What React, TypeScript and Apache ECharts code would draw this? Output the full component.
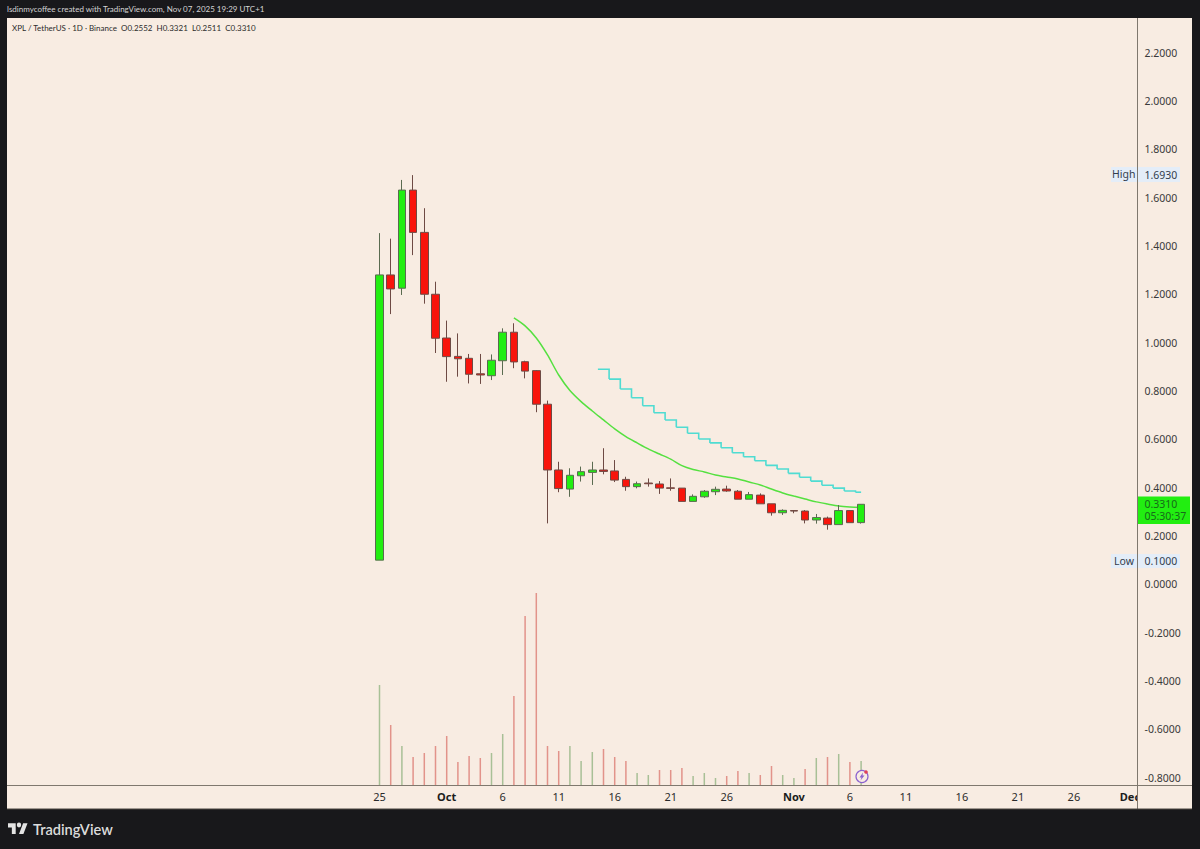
import React, { useEffect, useRef } from "react";
import * as echarts from "echarts";

const opens = [0.1,1.28,1.225,1.631,1.456,1.2,1.019,0.943,0.935,0.871,0.863,0.925,1.043,0.921,0.884,0.745,0.473,0.394,0.449,0.463,0.473,0.469,0.434,0.404,0.419,0.415,0.399,0.398,0.343,0.362,0.383,0.394,0.385,0.352,0.369,0.333,0.296,0.305,0.303,0.266,0.274,0.247,0.305,0.2552];
const closes = [1.28,1.222,1.631,1.456,1.2,1.018,0.942,0.933,0.869,0.866,0.927,1.043,0.92,0.882,0.745,0.473,0.396,0.451,0.466,0.473,0.467,0.431,0.404,0.416,0.416,0.398,0.397,0.343,0.364,0.385,0.393,0.386,0.352,0.371,0.333,0.296,0.306,0.303,0.266,0.276,0.247,0.305,0.255,0.331];
const lows = [0.1,1.118,1.197,1.362,1.161,0.957,0.838,0.859,0.831,0.829,0.845,0.866,0.894,0.852,0.712,0.252,0.381,0.362,0.425,0.411,0.455,0.423,0.387,0.397,0.404,0.374,0.387,0.343,0.343,0.358,0.369,0.383,0.352,0.352,0.333,0.284,0.287,0.294,0.252,0.251,0.226,0.247,0.255,0.2511];
const highs = [1.453,1.43,1.673,1.693,1.556,1.252,1.091,1.038,0.953,0.953,0.951,1.059,1.08,0.925,0.886,0.76,0.507,0.48,0.487,0.507,0.563,0.514,0.445,0.425,0.438,0.427,0.438,0.398,0.372,0.39,0.404,0.408,0.39,0.382,0.376,0.333,0.31,0.307,0.307,0.291,0.28,0.328,0.305,0.3321];
const volumes = [100,60,39,28,32,39,49,23,29,27,32,51,89,169,192,39,34,39,24,33,36,28,24,12,10,15,15,17,9,12,7,9,14,12,10,19,10,7,16,27,28,31,23,24];
const volumeUp = [1,0,1,0,0,0,0,0,0,0,1,1,0,0,0,0,0,1,1,1,0,0,0,1,1,0,0,0,1,1,1,0,0,1,0,0,1,1,0,1,0,1,0,1];
const greenMA = [1.102,1.069,1.019,0.949,0.866,0.802,0.756,0.717,0.68,0.643,0.611,0.585,0.56,0.539,0.518,0.491,0.475,0.465,0.452,0.444,0.436,0.423,0.411,0.394,0.378,0.365,0.353,0.341,0.332,0.324,0.32,0.318];
const cyanStep = [0.89,0.849,0.808,0.772,0.739,0.71,0.68,0.65,0.625,0.601,0.585,0.565,0.544,0.528,0.511,0.492,0.477,0.459,0.443,0.427,0.41,0.398,0.386,0.381];
const priceTicks = [-0.8,-0.6,-0.4,-0.2,0,0.2,0.4,0.6,0.8,1,1.2,1.4,1.6,1.8,2,2.2];
const timeTicks = ["2025-09-25","2025-10-01","2025-10-06","2025-10-11","2025-10-16","2025-10-21","2025-10-26","2025-11-01","2025-11-06","2025-11-11","2025-11-16","2025-11-21","2025-11-26","2025-12-01"];
const monthNames: Record<string, string> = { "10": "Oct", "11": "Nov", "12": "Dec" };

const FIRST_DAY = Date.UTC(2025, 7, 23);
const categories: string[] = [];
for (let i = 0; i < 101; i++) categories.push(new Date(FIRST_DAY + i * 86400000).toISOString().slice(0, 10));
const LEAD = categories.indexOf("2025-09-25");
const MA_START = categories.indexOf("2025-10-07");
const STEP_START = categories.indexOf("2025-10-15");

const FONT = "'Noto Sans', sans-serif";
const HEAD_FONT = "Lato, sans-serif";
const DARK = "#18181b";
const PANEL = "#f8ece2";
const AXIS = "#7f786e";

echarts.graphic.registerShape("tvlogo", echarts.graphic.extendPath("M14 22H7V11H0V4h14v18zM28 22h-8l7.5-18h8L28 22zM24 7a4 4 0 1 1-8 0a4 4 0 0 1 8 0z", {}) as any);

export default function App() {
  const ref = useRef<HTMLDivElement>(null);
  useEffect(() => {
    const chart = echarts.init(ref.current!, undefined, { renderer: "svg" });
    const pad = (): any[] => Array(LEAD).fill("-");
    const candleData = [
      ...Array(LEAD).fill(["-", "-", "-", "-"]),
      ...opens.map((o, i) => [o, closes[i], lows[i], highs[i]]),
    ];
    const volData = [
      ...pad(),
      ...volumes.map((v, i) => ({ value: v, itemStyle: { color: volumeUp[i] ? "#a8c096" : "#e2938a" } })),
    ];
    const maData = [...Array(MA_START).fill("-"), ...greenMA];
    const stepData = cyanStep.map((v, i) => [STEP_START + i, v, i < cyanStep.length - 1 ? cyanStep[i + 1] : v, i < cyanStep.length - 1 ? 1 : 0]);

    chart.setOption({
      animation: false,
      backgroundColor: DARK,
      textStyle: { fontFamily: FONT },
      grid: { left: 4.3, width: 1131.2, top: 18, height: 767, containLabel: false },
      xAxis: {
        type: "category",
        data: categories,
        boundaryGap: true,
        axisLine: { show: false },
        axisTick: { show: false },
        splitLine: { show: false },
        axisLabel: {
          interval: (_: number, v: string) => timeTicks.includes(v),
          margin: 6,
          fontFamily: FONT,
          fontSize: 11,
          color: "#2b2b2b",
          hideOverlap: false,
          formatter: (v: string) => {
            const day = Number(v.slice(8));
            return day === 1 ? `{m|${monthNames[v.slice(5, 7)]}}` : String(day);
          },
          rich: { m: { fontWeight: "bold", fontSize: 11, fontFamily: FONT, color: "#1c1c1c" } },
        },
      },
      yAxis: [
        {
          type: "value",
          position: "right",
          offset: 2,
          min: -0.8304,
          max: 2.343,
          scale: true,
          axisLine: { show: false },
          axisTick: { show: false },
          splitLine: { show: false },
          axisLabel: {
            customValues: priceTicks,
            margin: 7,
            align: "left",
            fontFamily: FONT,
            fontSize: 10.5,
            color: "#3a3a3a",
            formatter: (v: number) => v.toFixed(4),
          },
        },
        { type: "value", min: 0, max: 767, show: false },
      ],
      series: [
        {
          type: "bar",
          yAxisIndex: 1,
          data: volData,
          barWidth: 1.5,
          z: 1,
        },
        {
          type: "line",
          data: maData,
          symbol: "none",
          smooth: 0.3,
          connectNulls: false,
          lineStyle: { color: "#55e040", width: 1.5 },
          z: 2,
        },
        {
          type: "custom",
          data: stepData,
          encode: { x: 0, y: 1 },
          z: 2,
          renderItem: (_: any, api: any) => {
            const a = api.coord([api.value(0), api.value(1)]);
            const b = api.coord([api.value(0), api.value(2)]);
            const half = api.size([1, 0])[0] / 2;
            const more = api.value(3);
            const points = more
              ? [[a[0] - half, a[1]], [a[0] + half, a[1]], [a[0] + half, b[1]]]
              : [[a[0] - half, a[1]], [a[0], a[1]]];
            return {
              type: "polyline",
              shape: { points },
              style: { stroke: "#4fdcd2", lineWidth: 1.6, fill: "none" },
            };
          },
        },
        {
          type: "candlestick",
          data: candleData,
          barWidth: 8,
          z: 3,
          itemStyle: {
            color: "#22ee11",
            color0: "#f8140c",
            borderColor: "#5a6b50",
            borderColor0: "#6e4a44",
            borderWidth: 1,
          },
        },
      ],
      graphic: [
        { type: "rect", z: -1, shape: { x: 7, y: 18, width: 1185, height: 791 }, style: { fill: PANEL } },
        { type: "rect", z: 50, shape: { x: 0, y: 18, width: 7, height: 791 }, style: { fill: DARK } },
        { type: "rect", z: 50, shape: { x: 1138, y: 786, width: 54, height: 23 }, style: { fill: PANEL } },
        { type: "line", z: 51, shape: { x1: 7, y1: 785.5, x2: 1192, y2: 785.5 }, style: { stroke: AXIS, lineWidth: 1 } },
        { type: "line", z: 51, shape: { x1: 1137.5, y1: 18, x2: 1137.5, y2: 809 }, style: { stroke: AXIS, lineWidth: 1 } },
        { type: "line", z: 51, shape: { x1: 7, y1: 809, x2: 1192, y2: 809 }, style: { stroke: "#4a4640", lineWidth: 1 } },

        { type: "text", z: 60, x: 7, y: 9, style: { text: "lsdinmycoffee created with TradingView.com, Nov 07, 2025 19:29 UTC+1", font: `8px ${HEAD_FONT}`, fill: "#d4d4d4", textVerticalAlign: "middle" } },
        { type: "text", z: 60, x: 12, y: 28, style: { text: "XPL / TetherUS · 1D · Binance  O0.2552  H0.3321  L0.2511  C0.3310", font: `8px ${HEAD_FONT}`, fill: "#2b2b2b", textVerticalAlign: "middle" } },

        { type: "rect", z: 20, shape: { x: 1111, y: 167, width: 69, height: 15 }, style: { fill: "#e4edf8" } },
        { type: "text", z: 60, x: 1112, y: 174, style: { text: "High", font: `10.5px ${FONT}`, fill: "#333d4d", textVerticalAlign: "middle" } },
        { type: "text", z: 60, x: 1144.5, y: 174.5, style: { text: "1.6930", font: `10.5px ${FONT}`, fill: "#333d4d", textVerticalAlign: "middle" } },
        { type: "rect", z: 20, shape: { x: 1111, y: 554, width: 69, height: 14 }, style: { fill: "#e4edf8" } },
        { type: "text", z: 60, x: 1114, y: 560.5, style: { text: "Low", font: `10.5px ${FONT}`, fill: "#333d4d", textVerticalAlign: "middle" } },
        { type: "text", z: 60, x: 1144.5, y: 560.5, style: { text: "0.1000", font: `10.5px ${FONT}`, fill: "#333d4d", textVerticalAlign: "middle" } },

        { type: "rect", z: 55, shape: { x: 1138, y: 496.5, width: 52, height: 27.5 }, style: { fill: "#22ee11" } },
        { type: "text", z: 60, x: 1144.5, y: 504, style: { text: "0.3310", font: `10.5px ${FONT}`, fill: "#17691a", textVerticalAlign: "middle" } },
        { type: "text", z: 60, x: 1144.5, y: 516, style: { text: "05:30:37", font: `10.5px ${FONT}`, fill: "#17691a", textVerticalAlign: "middle" } },

        { type: "circle", z: 60, shape: { cx: 862, cy: 776.5, r: 6 }, style: { fill: PANEL, stroke: "#8b62cf", lineWidth: 1.2 } },
        { type: "polygon", z: 61, shape: { points: [[863, 772.5], [859.5, 777.5], [861.5, 777.5], [860.5, 780.5], [864.5, 775.5], [862.5, 775.5]] }, style: { fill: "#8b62cf" } },
        { type: "circle", z: 62, shape: { cx: 866, cy: 772, r: 1.8 }, style: { fill: "#e0405a" } },

        { type: "tvlogo", z: 60, x: 8, y: 820.8, scaleX: 0.55, scaleY: 0.6, style: { fill: "#e4e4e4" } },
        { type: "text", z: 60, x: 33, y: 829, style: { text: "TradingView", font: `600 14.6px ${HEAD_FONT}`, fill: "#dcdcdc", textVerticalAlign: "middle" } },
      ],
    } as any);
    return () => chart.dispose();
  }, []);
  return <div ref={ref} style={{ position: "fixed", left: 0, top: 0, width: 1200, height: 849 }} />;
}
